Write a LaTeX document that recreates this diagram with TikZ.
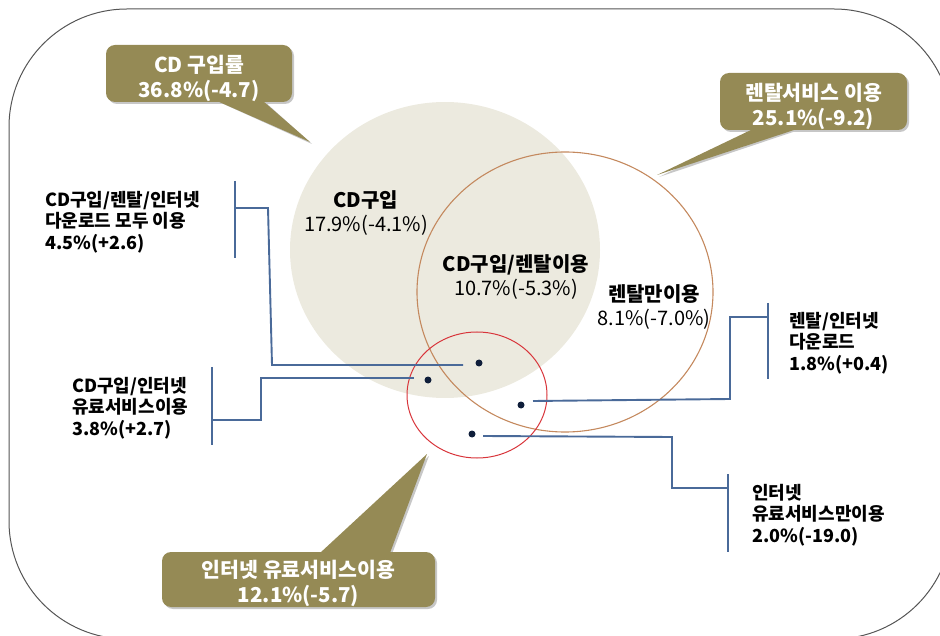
\documentclass[tikz,border=0pt]{standalone}
\usepackage{fontspec}
\setmainfont{Noto Sans CJK KR}
\usetikzlibrary{shadows}
\definecolor{beige}{HTML}{ECEADF}
\definecolor{brownc}{HTML}{C4895E}
\definecolor{redc}{HTML}{D8353B}
\definecolor{connblue}{HTML}{4A6A99}
\definecolor{dotblue}{HTML}{0F1E3A}
\definecolor{olivec}{HTML}{958A55}
\definecolor{framec}{HTML}{555555}
\begin{document}
\begin{tikzpicture}[x=1pt,y=-1pt,
  lbl/.style={font=\fontsize{18}{21.5}\selectfont\bfseries, align=left, anchor=west, inner sep=0pt},
  ctxt/.style={font=\fontsize{20}{24}\selectfont, align=center, inner sep=0pt},
  callbox/.style={fill=olivec, rounded corners=9pt, inner sep=0pt,
    drop shadow={shadow xshift=2pt, shadow yshift=-2pt, fill=black!22, opacity=1}},
  calltxt/.style={text=white, inner sep=0pt, font=\fontsize{20.5}{25}\selectfont\bfseries, align=center},
  shadowfill/.style={fill=black!22},
  pointer/.style={fill=olivec},
  conn/.style={draw=connblue, line width=1.9pt},
  dotnode/.style={circle, fill=dotblue, inner sep=0pt, minimum size=7pt},
]
\useasboundingbox (0,0) rectangle (940,636);
\clip (0,0) rectangle (940,636);
% frame
\draw[framec, line width=1pt, rounded corners=118pt] (9,9) rectangle (952,639);
% circles
\fill[beige] (445,250) ellipse [x radius=155pt, y radius=148pt];
\draw[brownc, line width=1.1pt] (565,292) ellipse [x radius=148pt, y radius=140pt];
\draw[redc, line width=1pt] (477,395) ellipse [x radius=70pt, y radius=63pt];
% circle texts
\node[ctxt] (tcd) at (366,213) {\textbf{CD구입}\\17.9\%(-4.1\%)};
\node[ctxt] (tcdr) at (516,277) {\textbf{CD구입/렌탈이용}\\10.7\%(-5.3\%)};
\node[ctxt] (tr) at (654,307) {\textbf{렌탈만이용}\\8.1\%(-7.0\%)};
% dots
\node[dotnode] (d1) at (479,363) {};
\node[dotnode] (d2) at (428,380) {};
\node[dotnode] (d3) at (521,405) {};
\node[dotnode] (d4) at (472,434) {};
% connector coordinates
\coordinate (b1t) at (235,181); \coordinate (b1b) at (235,258); \coordinate (b1m) at (235,208);
\coordinate (e1) at (463,365);
\coordinate (b2t) at (212,367); \coordinate (b2b) at (212,445); \coordinate (b2m) at (212,420);
\coordinate (e2) at (414,378);
\coordinate (b3t) at (768,303); \coordinate (b3b) at (768,379); \coordinate (b3m) at (768,317);
\coordinate (e3) at (533,401);
\coordinate (b4t) at (728,474); \coordinate (b4b) at (728,552); \coordinate (b4m) at (728,488);
\coordinate (e4) at (483,436);
% bars
\draw[conn] (b1t) -- (b1b);
\draw[conn] (b2t) -- (b2b);
\draw[conn] (b3t) -- (b3b);
\draw[conn] (b4t) -- (b4b);
% connectors
\draw[conn] (b1m) -- (268,208) -- (272,365) -- (e1);
\draw[conn] (b2m) -- (261,420) -- (261,378) -- (e2);
\draw[conn] (b3m) -- (730,317) -- (730,399) -- (e3);
\draw[conn] (b4m) -- (672,488) -- (672,437) -- (e4);
% labels
\node[lbl] (l1) at (45,222) {CD구입/렌탈/인터넷\\다운로드 모두 이용\\4.5\%(+2.6)};
\node[lbl] (l2) at (72,408) {CD구입/인터넷\\유료서비스이용\\3.8\%(+2.7)};
\node[lbl] (l3) at (789,343) {렌탈/인터넷\\다운로드\\1.8\%(+0.4)};
\node[lbl] (l4) at (752,515) {인터넷\\유료서비스만이용\\2.0\%(-19.0)};
% callout 1
\fill[shadowfill] (219,102) -- (265,102) -- (312,144) -- cycle;
\node[callbox, minimum width=186pt, minimum height=57pt] (c1) at (199,73.5) {};
\fill[pointer] (217,101) -- (263,101) -- (310,142) -- cycle;
\node[calltxt] (c1t) at ([yshift=-4.5pt]c1.center) {CD 구입률\\36.8\%(-4.7)};
% callout 2
\fill[shadowfill] (755,130) -- (799,130) -- (659,177) -- cycle;
\node[callbox, minimum width=187pt, minimum height=57pt] (c2) at (813.5,101.5) {};
\fill[pointer] (753,129) -- (797,129) -- (657,175) -- cycle;
\node[calltxt] (c2t) at ([yshift=-5pt]c2.center) {렌탈서비스 이용\\25.1\%(-9.2)};
% callout 3
\fill[shadowfill] (322,554) -- (392,554) -- (429,456) -- cycle;
\node[callbox, minimum width=273pt, minimum height=55pt] (c3) at (298.5,579.5) {};
\fill[pointer] (320,553) -- (390,553) -- (427,454) -- cycle;
\node[calltxt] (c3t) at ([yshift=-4pt]c3.center) {인터넷 유료서비스이용\\12.1\%(-5.7)};
\end{tikzpicture}
\end{document}
